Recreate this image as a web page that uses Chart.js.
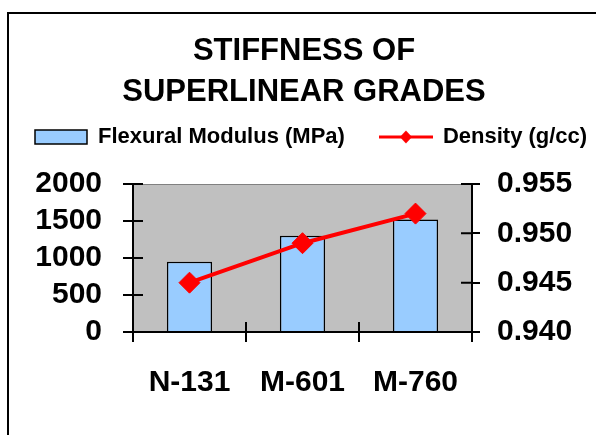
<!DOCTYPE html>
<html><head><meta charset="utf-8">
<script src="https://cdn.jsdelivr.net/npm/chart.js@4/dist/chart.umd.min.js"></script>
<style>html,body{margin:0;padding:0;background:#fff;overflow:hidden}</style>
</head><body>
<canvas id="c" width="596" height="435"></canvas>
<script>
const categories = ['N-131', 'M-601', 'M-760'];
const flexuralModulus = [950, 1300, 1520];
const density = [0.945, 0.949, 0.952];
const modulusTicks = [0, 500, 1000, 1500, 2000];
const densityTicks = [0.940, 0.945, 0.950, 0.955];
const titleLines = ['STIFFNESS OF', 'SUPERLINEAR GRADES'];
const seriesNames = ['Flexural Modulus (MPa)', 'Density (g/cc)'];

const FAM = "'Liberation Sans', Arial, Helvetica, sans-serif";

// legend symbol for the line series (line + diamond)
const lineSym = document.createElement('canvas');
lineSym.width = 54; lineSym.height = 16;
(function(){
  const g = lineSym.getContext('2d');
  g.strokeStyle = '#FF0000'; g.lineWidth = 3;
  g.beginPath(); g.moveTo(0, 8); g.lineTo(54, 8); g.stroke();
  g.fillStyle = '#FF0000';
  g.beginPath(); g.moveTo(27, 1.5); g.lineTo(33, 8); g.lineTo(27, 14.5); g.lineTo(21, 8); g.closePath(); g.fill();
})();

const bgPlugin = {
  id: 'bg',
  beforeDraw(chart) {
    const {ctx, chartArea: a} = chart;
    ctx.save();
    ctx.fillStyle = '#fff'; ctx.fillRect(0, 0, chart.width, chart.height);
    ctx.strokeStyle = '#000'; ctx.lineWidth = 2;
    ctx.strokeRect(8, 13, chart.width + 40, chart.height + 40);
    ctx.fillStyle = '#C0C0C0';
    ctx.fillRect(a.left, a.top, a.right - a.left, a.bottom - a.top);
    ctx.strokeStyle = '#808080'; ctx.lineWidth = 1;
    ctx.beginPath(); ctx.moveTo(a.left, a.top + 0.5); ctx.lineTo(a.right, a.top + 0.5); ctx.stroke();
    ctx.restore();
  }
};

const innerTicks = {
  id: 'innerTicks',
  afterDraw(chart) {
    const {ctx, chartArea: a, scales} = chart;
    ctx.save(); ctx.strokeStyle = '#000'; ctx.lineWidth = 2; ctx.beginPath();
    scales.y.ticks.forEach((t, i) => { const p = scales.y.getPixelForTick(i); ctx.moveTo(a.left, p); ctx.lineTo(a.left + 10, p); });
    scales.y1.ticks.forEach((t, i) => { const p = scales.y1.getPixelForTick(i); ctx.moveTo(a.right, p); ctx.lineTo(a.right - 11, p); });
    const n = scales.x.ticks.length;
    for (let i = 0; i <= n; i++) { const p = scales.x.left + i * (scales.x.width / n); ctx.moveTo(p, a.bottom); ctx.lineTo(p, a.bottom - 10); }
    ctx.stroke(); ctx.restore();
  }
};

const legendFit = {
  id: 'legendFit',
  beforeInit(chart) {
    const lg = chart.legend;
    const orig = lg.fit;
    lg.fit = function() {
      const mw = this.maxWidth;
      this.maxWidth = 3000;
      orig.call(this);
      this.maxWidth = mw;
      this.width = Math.min(this.width, mw);
      this.height += 26;
    };
    const origDraw = lg.draw;
    lg.draw = function() {
      const r = this.right;
      this.right = 3000;
      origDraw.apply(this, arguments);
      this.right = r;
    };
  },
  afterLayout(chart) {
    const t = chart.titleBlock;
    if (t) { t.left += 12; }
  }
};

new Chart(document.getElementById('c'), {
  type: 'bar',
  data: {
    labels: categories,
    datasets: [
      {
        type: 'bar', label: seriesNames[0], data: flexuralModulus, yAxisID: 'y', order: 1,
        backgroundColor: '#99CCFF', borderColor: '#000', borderWidth: 1.5,
        barPercentage: 0.4, categoryPercentage: 1.0
      },
      {
        type: 'line', label: seriesNames[1], data: density, yAxisID: 'y1', order: 0,
        borderColor: '#FF0000', borderWidth: 4, backgroundColor: '#FF0000',
        pointStyle: 'rectRot', pointRadius: 10.5, pointBorderWidth: 1,
        pointBackgroundColor: '#FF0000', pointBorderColor: '#FF0000', tension: 0
      }
    ]
  },
  options: {
    responsive: false, animation: false, devicePixelRatio: 1,
    layout: { padding: { left: 0, right: 0, top: 0, bottom: 0 } },
    plugins: {
      tooltip: { enabled: false },
      title: {
        display: true, text: titleLines, color: '#000',
        font: { family: FAM, size: 31, weight: 'bold', lineHeight: 41 / 31 },
        padding: { top: 30.5, bottom: -21.5 }
      },
      legend: {
        display: true, position: 'top', align: 'start',
        labels: {
          color: '#000', font: { family: FAM, size: 22, weight: 'bold' },
          padding: 35, usePointStyle: true, pointStyleWidth: 52, boxHeight: 14,
          generateLabels(chart) {
            const items = Chart.defaults.plugins.legend.labels.generateLabels(chart);
            items.sort((p, q) => p.datasetIndex - q.datasetIndex);
            items.forEach(it => {
              if (it.datasetIndex === 0) { it.pointStyle = 'rect'; it.lineWidth = 1.5; it.strokeStyle = '#000'; it.fillStyle = '#99CCFF'; }
              else { it.pointStyle = lineSym; }
            });
            return items;
          }
        }
      }
    },
    scales: {
      x: {
        type: 'category', offset: true,
        afterFit: s => { s.height = 103; },
        grid: { offset: true, drawOnChartArea: false, drawTicks: true, tickLength: 10, color: '#000', lineWidth: 2 },
        border: { color: '#000', width: 2 },
        ticks: { font: { family: FAM, size: 30, weight: 'bold' }, color: '#000', padding: 22.5, maxRotation: 0, autoSkip: false }
      },
      y: {
        position: 'left', min: 0, max: 2000,
        afterBuildTicks: s => { s.ticks = modulusTicks.map(v => ({ value: v })); },
        afterFit: s => { s.width = 133; },
        grid: { drawOnChartArea: false, tickLength: 10, color: '#000', lineWidth: 2 },
        border: { color: '#000', width: 2 },
        ticks: { font: { family: FAM, size: 30, weight: 'bold' }, color: '#000', padding: 21, autoSkip: false, callback: v => String(v) }
      },
      y1: {
        position: 'right', min: 0.940, max: 0.955,
        afterBuildTicks: s => { s.ticks = densityTicks.map(v => ({ value: v })); },
        afterFit: s => { s.width = 124; },
        grid: { drawOnChartArea: false, tickLength: 8, color: '#000', lineWidth: 2 },
        border: { color: '#000', width: 2 },
        ticks: { font: { family: FAM, size: 30, weight: 'bold' }, color: '#000', padding: 17, autoSkip: false, callback: v => Number(v).toFixed(3) }
      }
    }
  },
  plugins: [bgPlugin, innerTicks, legendFit]
});
</script>
</body></html>
